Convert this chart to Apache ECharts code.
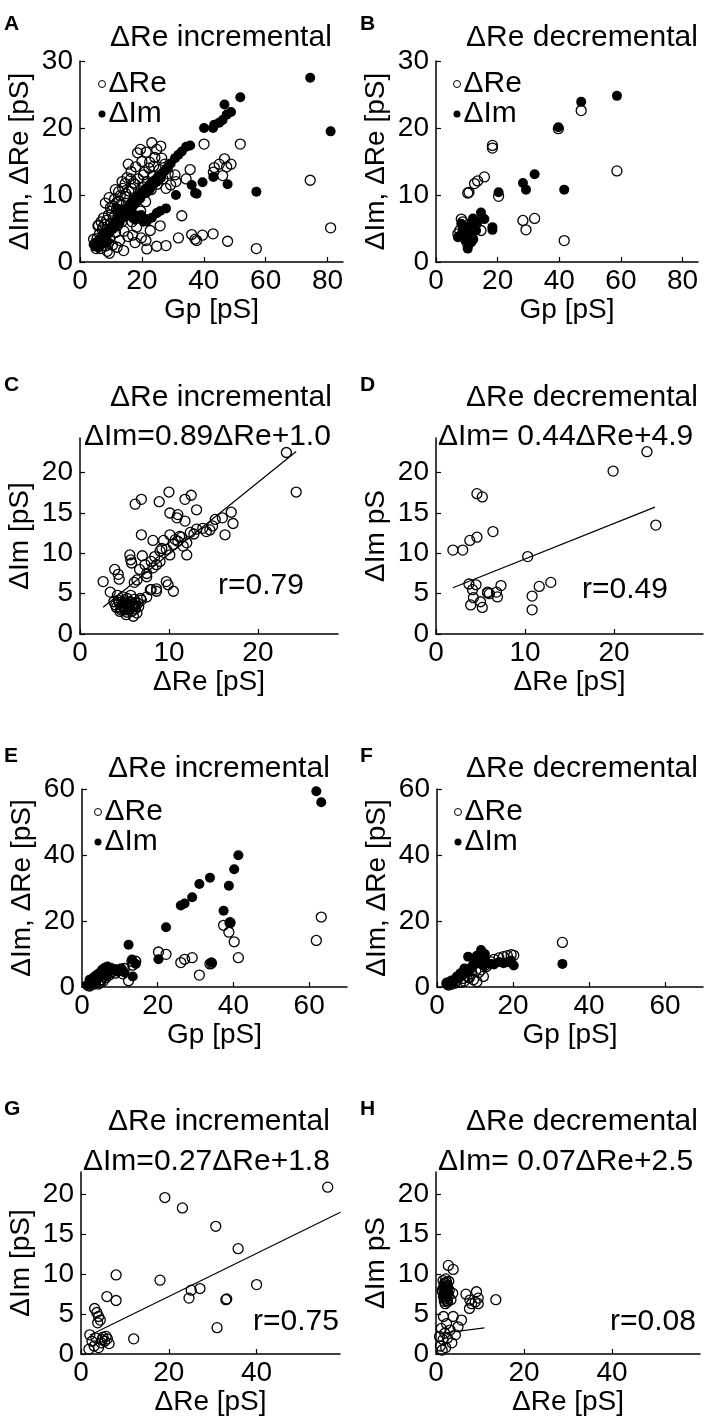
<!DOCTYPE html>
<html>
<head>
<meta charset="utf-8">
<script src="https://cdn.jsdelivr.net/npm/echarts@6/dist/echarts.min.js"></script>
<style>
html,body{margin:0;padding:0;background:#fff}
#chart{width:708px;height:1426px}
</style>
</head>
<body>
<div id="chart"></div>
<script>
// ---- data ----
// A: dRe incremental, per cell: Gp, dRe, dIm
var gpA = [74.4,81.0,57.0,51.8,47.7,46.7,48.8,47.4,46.1,45.0,43.4,43.1,40.1,43.0,39.6,36.1,37.7,37.2,35.6,34.3,32.9,31.8,31.0,30.7,29.3,27.8,27.8,26.4,26.1,25.9,24.8,24.8,23.8,23.2,22.7,22.5,21.6,21.4,21.3,20.5,19.5,18.6,17.8,17.8,16.4,14.6,14.1,13.0,11.9,9.8,9.5,7.6,7.4,6.6,4.4,
  5.0,5.5,6.0,6.3,7.0,7.2,7.8,8.0,8.3,8.6,9.0,9.2,9.6,10.0,10.2,10.5,10.8,11.2,11.5,11.8,12.2,12.5,12.8,13.2,13.5,13.8,14.2,14.5,14.8,15.2,15.5,15.8,16.2,16.5,16.8,17.2,17.5,18.0,18.3,18.8,19.2,19.6,20.0,20.4,20.8,21.2,21.8,22.3,23.0,23.5,24.2,25.0,25.6,26.8,27.4,28.5,17.0,18.5,19.8,12.0,6.0,8.8,
  5.8,6.8,8.2,9.4,10.6,11.4,12.6,13.6,14.8,15.6,16.6,5.2,7.6,9.2];
var reA = [12.2,5.1,2.0,17.6,3.1,15.4,14.6,14.2,12.9,14.6,14.1,13.4,17.6,4.2,4.0,4.1,3.2,3.4,13.8,12.4,6.9,3.6,12.0,13.0,11.5,2.45,11.0,15.5,17.3,5.4,2.35,16.8,14.3,17.8,4.7,14.9,1.95,16.4,3.2,13.0,16.8,16.3,2.9,11.6,12.4,11.7,1.7,9.9,8.9,8.1,1.3,6.6,5.2,2.0,3.4,
  2.8,3.5,2.6,4.2,3.0,4.8,3.8,5.6,2.4,6.2,4.5,7.0,3.6,5.8,7.6,2.5,6.6,9.4,4.4,7.9,5.5,10.5,3.2,8.6,6.0,11.0,4.6,9.8,7.2,12.6,3.8,10.6,8.0,13.5,6.0,11.8,9.2,14.2,5.2,12.4,10.0,7.6,15.0,11.2,13.4,9.0,12.0,14.0,10.8,12.8,15.6,11.6,13.8,12.4,14.6,13.2,4.0,6.8,3.6,2.2,5.5,1.6,
  5.4,6.0,8.8,9.6,8.4,10.8,9.0,12.0,10.2,14.6,11.0,2.0,4.0,2.8];
var imA = [27.5,19.5,10.5,24.6,11.6,23.5,22.4,22.0,21.2,20.8,20.5,12.7,20.0,20.0,11.9,11.5,10.2,10.3,17.4,17.2,16.5,16.0,10.0,15.5,14.7,13.8,8.0,13.1,12.5,7.6,7.3,12.0,11.6,6.6,11.0,10.8,6.1,10.3,6.4,6.0,9.5,9.2,8.8,6.3,8.0,7.4,6.8,6.5,5.8,5.0,4.5,4.2,3.8,3.0,2.6,
  2.3,2.9,3.2,2.7,3.6,3.3,4.0,3.6,4.3,4.5,4.2,4.8,4.6,5.0,5.3,4.9,5.6,5.2,6.0,5.8,6.2,6.6,5.9,6.9,7.2,6.6,7.4,7.8,7.0,8.0,7.6,8.4,8.2,8.8,8.5,9.0,8.7,9.4,9.0,9.8,9.6,10.0,10.4,10.2,10.8,10.5,11.0,11.4,11.8,12.0,12.2,12.6,12.9,13.4,13.6,14.2,6.6,6.9,7.0,8.0,2.2,3.0,
  2.9,3.4,4.1,4.7,5.2,5.6,6.1,6.7,7.2,7.7,8.3,2.5,3.9,4.4];

// B: dRe decremental, per cell: Gp, dRe, dIm
var gpB = [58.7,47.1,39.7,32.0,28.2,29.2,41.6,20.3,18.3,18.3,15.7,14.6,13.5,12.5,10.7,10.3,8.7,8.2,7.7,7.1,10.9,11.9,10.3,11.4,13.0,9.5,12.0];
var reB = [13.6,22.6,19.9,6.5,6.2,4.8,3.2,9.8,17.4,17.0,12.7,4.7,12.1,11.7,10.4,10.3,6.0,6.4,4.7,4.2,4.0,3.4,2.6,3.4,5.7,5.0,6.0];
var imB = [24.8,23.9,20.1,13.1,11.8,10.8,10.8,10.4,5.2,4.8,6.4,7.4,6.1,5.7,5.4,4.9,4.7,5.7,3.9,3.7,4.2,3.4,2.0,2.9,4.7,3.2,6.5];

// C: dIm vs dRe, incremental
var reC = [23.2,24.3,10.0,12.5,11.8,6.2,6.9,8.9,13.1,10.1,11.0,10.9,11.8,17.0,16.0,17.2,15.2,14.9,14.2,13.1,16.3,11.2,10.7,10.1,12.0,11.6,11.0,10.5,9.4,6.9,8.2,9.0,9.7,12.0,10.1,9.0,8.6,8.0,5.6,5.7,7.0,5.8,7.3,6.7,8.2,7.5,6.4,7.5,3.9,4.3,4.4,2.6,3.4,6.1,9.7,9.9,10.5,8.6,7.9,
  4.0,4.3,4.6,4.8,5.0,5.1,5.3,5.5,5.6,5.8,5.9,6.1,6.2,6.4,6.5,4.5,5.2,5.7,4.2,6.8,3.8,6.0,5.4,4.9,5.8,4.7,5.3,6.3,6.6,6.9,7.5,8.0,8.6,
  4.4,4.7,5.0,5.2,5.5,5.7,6.0,4.1,4.9,5.6,5.1,5.9,4.6,5.4,6.2,12.4,13.8,14.6,11.4,12.8,9.2,8.4];
var imC = [22.5,17.6,17.6,17.2,16.7,16.1,16.7,16.4,15.4,15.0,14.8,14.4,14.0,15.1,14.4,13.7,14.2,13.4,12.7,13.0,12.3,12.1,11.7,12.3,11.3,10.9,11.5,11.1,11.6,12.3,11.6,10.3,10.5,9.8,9.8,9.0,8.6,9.0,9.8,9.2,9.7,8.8,8.6,8.0,8.2,7.1,6.7,7.5,8.0,7.4,6.8,6.5,5.2,6.4,6.5,6.1,5.3,5.6,5.5,
  3.6,4.2,3.2,4.6,3.8,3.0,4.4,3.4,4.0,2.8,3.6,4.3,3.1,2.6,3.8,2.8,2.4,4.8,4.8,4.4,4.0,2.2,3.7,3.4,3.3,4.0,2.7,3.5,3.4,4.2,4.6,5.5,5.3,
  3.9,3.5,3.1,3.7,3.0,3.9,3.4,3.3,3.8,3.2,4.1,3.7,3.0,3.5,3.9,12.6,13.1,12.9,12.0,12.4,10.6,9.6];
var fitC = [0.89, 1.0, 2.6, 24.3]; // slope, intercept, fitted range

// D: dIm vs dRe, decremental
var reD = [23.7,19.9,24.7,4.6,5.2,6.4,4.6,3.8,3.0,1.9,10.3,3.7,4.5,4.1,7.3,5.8,6.0,6.8,6.9,4.2,11.6,12.9,10.8,3.9,5.2,5.0,10.8,5.8];
var imD = [22.6,20.2,13.5,17.4,17.0,12.7,12.0,11.6,10.4,10.4,9.6,6.2,6.1,5.5,6.0,5.2,5.0,5.2,4.6,4.5,5.9,6.4,4.7,3.6,3.3,4.0,3.0,5.1];
var fitD = [0.44, 4.9, 1.9, 24.6];

// E: dRe incremental, per cell: Gp, dRe, dIm
var gpE = [61.9,63.2,41.3,40.2,38.8,37.4,39.1,33.8,31.0,29.1,27.1,26.1,22.2,20.2,12.3,13.2,13.4,14.2,34.2,
  2.0,2.5,3.0,3.2,3.6,4.0,4.3,4.6,5.0,5.3,5.6,6.0,6.3,6.7,7.2,8.0,8.8,9.5,10.3,10.8,11.2,1.5,
  2.8,3.4,4.8,5.8,6.5,7.6,9.0];
var reE = [14.1,21.2,8.9,13.7,16.6,18.7,19.5,7.0,3.6,8.9,8.4,7.4,9.9,10.6,1.9,7.8,6.6,7.8,7.2,
  0.3,1.2,0.8,2.0,1.5,2.6,0.9,3.2,2.2,3.8,1.8,4.4,2.8,5.0,3.6,4.6,4.2,5.0,5.4,4.0,5.6,0.5,
  2.2,2.8,1.4,3.2,3.8,4.4,5.2];
var imE = [59.3,56.0,39.9,35.7,30.7,23.1,19.5,33.1,31.2,27.2,25.3,24.7,18.1,8.4,12.8,8.3,3.2,7.0,7.4,
  2.2,1.0,2.8,1.5,3.4,2.4,4.0,3.0,4.6,5.2,3.6,5.8,4.8,6.2,5.4,4.9,5.3,4.6,5.6,5.0,4.4,0.6,
  1.8,3.1,3.8,5.0,5.6,5.8,5.2];

// F: dRe decremental, per cell: Gp, dRe, dIm
var gpF = [33.0,11.6,8.2,20.2,19.5,18.5,17.5,16.3,15.0,14.2,13.0,12.2,11.0,10.2,9.6,9.0,8.5,7.8,7.2,6.8,6.2,5.8,5.2,4.8,4.3,3.8,3.4,3.0,2.6,10.5,12.6];
var reF = [13.5,5.2,3.0,9.6,9.8,9.5,9.2,8.8,8.4,7.6,6.2,3.2,4.4,5.0,2.2,4.0,2.8,3.4,1.8,2.6,1.4,3.0,2.0,1.2,1.8,0.8,1.4,0.6,1.0,1.6,6.6];
var imF = [7.0,11.2,9.2,6.5,8.0,7.5,7.2,7.6,6.8,7.0,7.4,6.6,8.0,7.4,6.8,6.0,5.2,4.4,5.6,3.6,4.2,2.8,3.2,2.2,1.6,2.0,1.2,0.8,1.4,9.5,10.0];

// G: dIm vs dRe, incremental
var reG = [56.2,59.1,19.1,23.1,30.7,35.8,40.0,18.0,25.1,27.1,24.6,33.0,33.2,8.0,5.9,8.0,3.1,3.6,4.0,4.4,3.8,31.0,12.0,2.0,2.5,3.0,3.4,4.0,4.6,5.0,5.4,6.0,6.4,4.8,5.7,1.8];
var imG = [20.9,13.8,19.6,18.3,16.0,13.2,8.7,9.25,8.0,8.2,7.0,6.8,6.9,9.9,7.2,6.7,5.7,5.2,4.7,4.25,3.9,3.3,1.9,2.4,1.6,1.0,2.0,0.8,1.4,2.1,1.6,1.9,1.3,1.8,2.2,0.6];
var fitG = [0.27, 1.8, 2.0, 59.1];

// H: dIm vs dRe, decremental
var reH = [2.8,3.9,1.6,2.0,2.4,1.8,2.2,2.6,1.5,2.0,2.5,3.0,1.7,2.3,2.8,1.9,2.6,3.4,2.1,3.8,1.4,2.9,6.8,7.7,7.6,8.1,9.2,9.6,9.6,8.9,13.6,1.7,3.9,5.8,2.4,1.2,2.0,1.6,2.6,3.2,1.0,2.2,3.6,4.4,1.4,0.8,5.0,
  2.1,2.4,2.2,1.9,2.7,2.3,2.0,2.5,2.2,1.8,2.6,2.4];
var imH = [11.1,10.6,9.2,8.9,9.0,8.5,8.2,8.6,7.8,7.6,7.9,8.0,7.2,7.0,7.3,6.6,6.5,6.8,6.3,7.6,8.0,9.1,7.5,6.75,5.7,6.3,7.8,7.0,6.3,6.5,6.8,4.7,4.7,4.25,3.8,3.2,2.6,1.8,2.0,3.0,1.0,0.8,1.4,2.4,0.5,2.2,3.4,
  8.8,8.4,7.9,7.4,7.6,7.2,6.9,6.7,9.4,8.1,8.3,7.7];
var fitH = [0.07, 2.5, 1.0, 11.0];

// axis ticks / labels
var xTicksA = [0,20,40,60,80], xTicksC = [0,10,20], xTicksE = [0,20,40,60], xTicksG = [0,20,40];
var yTicksA = [0,10,20,30], yTicksC = [0,5,10,15,20], yTicksE = [0,20,40,60];
var titles = ['ΔRe incremental','ΔRe decremental','ΔRe incremental','ΔRe decremental','ΔRe incremental','ΔRe decremental','ΔRe incremental','ΔRe decremental'];
var equations = ['ΔIm=0.89ΔRe+1.0','ΔIm= 0.44ΔRe+4.9','ΔIm=0.27ΔRe+1.8','ΔIm= 0.07ΔRe+2.5'];
var rTexts = ['r=0.79','r=0.49','r=0.75','r=0.08'];
var panelLetters = ['A','B','C','D','E','F','G','H'];
var yNames = ['ΔIm, ΔRe [pS]','ΔIm, ΔRe [pS]','ΔIm [pS]','ΔIm pS','ΔIm, ΔRe [pS]','ΔIm, ΔRe [pS]','ΔIm [pS]','ΔIm pS'];
var xNames = ['Gp [pS]','Gp [pS]','ΔRe [pS]','ΔRe [pS]','Gp [pS]','Gp [pS]','ΔRe [pS]','ΔRe [pS]'];

// ---- layout ----
var FONT = '"Liberation Sans", Arial, sans-serif';
var grids = [
    {left: 80, top: 61, width: 263, height: 201},
    {left: 436, top: 61, width: 262, height: 201},
    {left: 80, top: 438, width: 258, height: 196},
    {left: 436, top: 438, width: 267, height: 196},
    {left: 82, top: 789, width: 265, height: 198},
    {left: 437, top: 789, width: 266, height: 198},
    {left: 81, top: 1172, width: 259, height: 182},
    {left: 436, top: 1172, width: 264, height: 182}
];
var xMax = [85, 85, 29, 30, 70, 70, 59, 60];
var yMax = [30, 30, 24.3, 24.3, 60, 60, 22.8, 22.8];
var xTicks = [xTicksA, xTicksA, xTicksC, xTicksC, xTicksE, xTicksE, xTicksG, xTicksG];
var yTicks = [yTicksA, yTicksA, yTicksC, yTicksC, yTicksE, yTicksE, yTicksC, yTicksC];

function zip(a, b) {
    return a.map(function (v, i) { return [v, b[i]]; });
}

var chart = echarts.init(document.getElementById('chart'));

var xAxes = [], yAxes = [], series = [], graphics = [], legends = [];
grids.forEach(function (g, i) {
    xAxes.push({
        type: 'value', gridIndex: i, min: 0, max: xMax[i],
        name: xNames[i], nameLocation: 'middle', nameGap: 34,
        nameTextStyle: {fontFamily: FONT, fontSize: 28, color: '#000'},
        axisLine: {lineStyle: {color: '#000', width: 1.5}},
        axisTick: {inside: true, length: 5, customValues: xTicks[i], lineStyle: {color: '#000', width: 1.2}},
        axisLabel: {customValues: xTicks[i], margin: 5, fontFamily: FONT, fontSize: 28, color: '#000'},
        splitLine: {show: false}
    });
    yAxes.push({
        type: 'value', gridIndex: i, min: 0, max: yMax[i],
        name: yNames[i], nameLocation: 'middle', nameGap: 46,
        nameTextStyle: {fontFamily: FONT, fontSize: 28, color: '#000'},
        axisLine: {lineStyle: {color: '#000', width: 1.5}},
        axisTick: {inside: true, length: 5, customValues: yTicks[i], lineStyle: {color: '#000', width: 1.2}},
        axisLabel: {customValues: yTicks[i], margin: 7, fontFamily: FONT, fontSize: 28, color: '#000'},
        splitLine: {show: false}
    });
});

var openStyle = {color: 'rgba(0,0,0,0)', borderColor: '#000', borderWidth: 1.3, opacity: 1};
var fillStyle = {color: '#000', opacity: 1};

function scatter(name, idx, data, style) {
    series.push({
        name: name, type: 'scatter', xAxisIndex: idx, yAxisIndex: idx,
        symbol: 'circle', symbolSize: 10, itemStyle: style, data: data,
        emphasis: {disabled: true}
    });
}
function fitLine(idx, fit) {
    series.push({
        type: 'line', xAxisIndex: idx, yAxisIndex: idx, symbol: 'none',
        lineStyle: {color: '#000', width: 1.2},
        data: [[fit[2], fit[0] * fit[2] + fit[1]], [fit[3], fit[0] * fit[3] + fit[1]]]
    });
}

// Gp panels: open = dRe, filled = dIm
[[0, gpA, reA, imA], [1, gpB, reB, imB], [4, gpE, reE, imE], [5, gpF, reF, imF]].forEach(function (p) {
    scatter('ΔRe', p[0], zip(p[1], p[2]), openStyle);
    scatter('ΔIm', p[0], zip(p[1], p[3]), fillStyle);
});
// dIm vs dRe panels
[[2, reC, imC, fitC], [3, reD, imD, fitD], [6, reG, imG, fitG], [7, reH, imH, fitH]].forEach(function (p) {
    scatter('cells ' + p[0], p[0], zip(p[1], p[2]), openStyle);
    fitLine(p[0], p[3]);
});

// legends inside A, B, E, F
[[0, 93, 64], [1, 448, 64], [4, 89, 792], [5, 449, 792]].forEach(function (p) {
    legends.push({
        orient: 'vertical', left: p[1], top: p[2], itemGap: 0,
        itemWidth: 7, itemHeight: 7, selectedMode: false,
        textStyle: {fontFamily: FONT, fontSize: 30, color: '#000', lineHeight: 25, padding: [0, 0, 0, -2]},
        data: [
            {name: 'ΔRe', icon: 'circle', itemStyle: {color: 'rgba(0,0,0,0)', borderColor: '#000', borderWidth: 1, opacity: 1}},
            {name: 'ΔIm', icon: 'circle', itemStyle: {color: '#000', opacity: 1}}
        ]
    });
});

function txt(s, x, y, size, weight) {
    graphics.push({
        type: 'text', x: x, y: y, silent: true,
        style: {text: s, fill: '#000', font: (weight || 'normal') + ' ' + size + 'px ' + FONT,
            align: 'left', verticalAlign: 'middle'}
    });
}

// titles, equations, r values, letters
var titleY = [38, 38, 398, 398, 769, 769, 1122, 1122];
var titleX = [110, 466, 110, 466, 108, 466, 108, 466];
titles.forEach(function (t, i) { txt(t, titleX[i], titleY[i], 30); });
var eqX = [84, 438, 83, 438], eqY = [437, 437, 1162, 1162];
equations.forEach(function (t, i) { txt(t, eqX[i], eqY[i], 30); });
var rX = [218, 582, 253, 610], rY = [586, 590, 1322, 1322];
rTexts.forEach(function (t, i) { txt(t, rX[i], rY[i], 30); });
var letterX = [4, 360], letterY = [24, 385, 756, 1109];
panelLetters.forEach(function (t, i) { txt(t, letterX[i % 2], letterY[Math.floor(i / 2)], 21, 'bold'); });

chart.setOption({
    animation: false,
    backgroundColor: '#fff',
    grid: grids,
    xAxis: xAxes,
    yAxis: yAxes,
    legend: legends,
    series: series,
    graphic: graphics
});
</script>
</body>
</html>
